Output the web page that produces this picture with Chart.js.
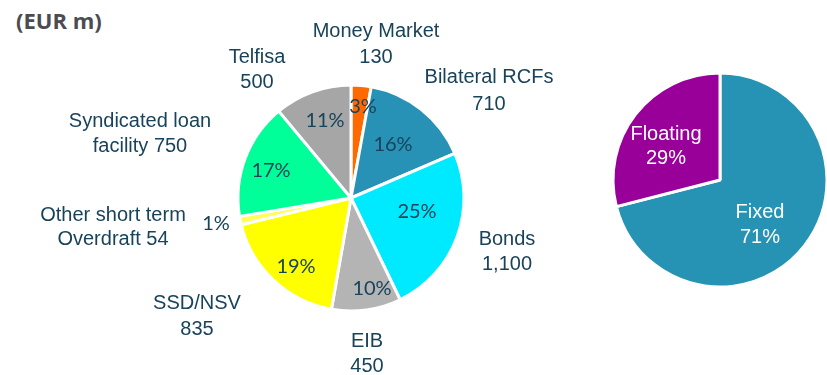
<!DOCTYPE html>
<html>
<head>
<meta charset="utf-8">
<script src="https://cdn.jsdelivr.net/npm/chart.js@4/dist/chart.umd.min.js"></script>
<style>
  html, body { margin: 0; padding: 0; background: #fff; }
  body { width: 827px; height: 375px; position: relative; overflow: hidden; }
  canvas { position: absolute; left: 0; top: 0; }
  #title { position: absolute; left: 16px; top: 5px; font: 700 22px "Open Sans", sans-serif; color: #4b4b52; line-height: 30px; }
</style>
</head>
<body>
<div id="title">(EUR m)</div>
<canvas id="sources" width="827" height="375"></canvas>
<canvas id="rates" width="827" height="375"></canvas>
<script>
// Funding sources (EUR m)
const sourceNames = ['Money Market', 'Bilateral RCFs', 'Bonds', 'EIB', 'SSD/NSV',
  'Other short term Overdraft', 'Syndicated loan facility', 'Telfisa'];
const sourceAmounts = [130, 710, 1100, 450, 835, 54, 750, 500];
const sourceShareLabels = ['3%', '16%', '25%', '10%', '19%', '1%', '17%', '11%'];
const sourceColors = ['#ff6a00', '#2792b5', '#00eaff', '#b4b4b4', '#ffff00', '#ffff55', '#00ff99', '#a6a6a6'];

// Interest rate mix (%)
const rateNames = ['Fixed', 'Floating'];
const rateShares = [71, 29];
const rateColors = ['#2693b5', '#990099'];

const TEXT = '#18435a';
const ARIAL = '"Liberation Sans", Arial, sans-serif';
const LATO = 'Lato, sans-serif';

// Text drawn on a chart: [lines, centreX, firstBaseline, lineHeight, font, colour]
function textPlugin(items) {
  return {
    id: 'texts',
    afterDatasetsDraw(chart) {
      const ctx = chart.ctx;
      ctx.save();
      ctx.textAlign = 'center';
      ctx.textBaseline = 'alphabetic';
      items.forEach(([lines, x, y, lh, font, color]) => {
        ctx.font = font;
        ctx.fillStyle = color;
        lines.forEach((line, i) => ctx.fillText(line, x, y + i * lh));
      });
      ctx.restore();
    }
  };
}

const fmt = v => v.toLocaleString('en-US');
const outer = '20px ' + ARIAL;
const inner = '20px ' + LATO;

const sourceTexts = [
  [['Money Market', fmt(sourceAmounts[0])], 376, 37, 26, outer, TEXT],
  [['Bilateral RCFs', fmt(sourceAmounts[1])], 489, 83, 27, outer, TEXT],
  [['Bonds', fmt(sourceAmounts[2])], 507, 245, 25, outer, TEXT],
  [['EIB', fmt(sourceAmounts[3])], 367, 347, 25, outer, TEXT],
  [['SSD/NSV', fmt(sourceAmounts[4])], 197, 309, 26, outer, TEXT],
  [['Other short term', 'Overdraft ' + fmt(sourceAmounts[5])], 113, 221, 24, outer, TEXT],
  [['Syndicated loan', 'facility ' + fmt(sourceAmounts[6])], 140, 127, 25, outer, TEXT],
  [['Telfisa', fmt(sourceAmounts[7])], 257, 63, 25, outer, TEXT],
  [[sourceShareLabels[0]], 363, 113, 0, inner, TEXT],
  [[sourceShareLabels[1]], 393, 151, 0, inner, TEXT],
  [[sourceShareLabels[2]], 417, 218, 0, inner, TEXT],
  [[sourceShareLabels[3]], 372, 295, 0, inner, TEXT],
  [[sourceShareLabels[4]], 296, 273, 0, inner, TEXT],
  [[sourceShareLabels[5]], 216, 230, 0, inner, TEXT],
  [[sourceShareLabels[6]], 271, 177, 0, inner, TEXT],
  [[sourceShareLabels[7]], 325, 127, 0, inner, TEXT]
];

const rateTexts = [
  [[rateNames[0], rateShares[0] + '%'], 760, 218, 25, outer, '#ffffff'],
  [[rateNames[1], rateShares[1] + '%'], 666, 140, 24, outer, '#ffffff']
];

const common = {
  responsive: false,
  animation: false,
  plugins: { legend: { display: false }, tooltip: { enabled: false } }
};

new Chart(document.getElementById('sources'), {
  type: 'pie',
  data: {
    labels: sourceNames,
    datasets: [{ data: sourceAmounts, backgroundColor: sourceColors,
      borderColor: '#ffffff', borderWidth: 3 }]
  },
  options: Object.assign({}, common, {
    radius: 113,
    layout: { padding: { left: 0, right: 125, top: 21, bottom: 0 } }
  }),
  plugins: [textPlugin(sourceTexts)]
});

new Chart(document.getElementById('rates'), {
  type: 'pie',
  data: {
    labels: rateNames,
    datasets: [{ data: rateShares, backgroundColor: rateColors,
      borderColor: '#ffffff', borderWidth: 3 }]
  },
  options: Object.assign({}, common, {
    radius: 107,
    layout: { padding: { left: 613, right: 0, top: 0, bottom: 15 } }
  }),
  plugins: [textPlugin(rateTexts)]
});
</script>
</body>
</html>
